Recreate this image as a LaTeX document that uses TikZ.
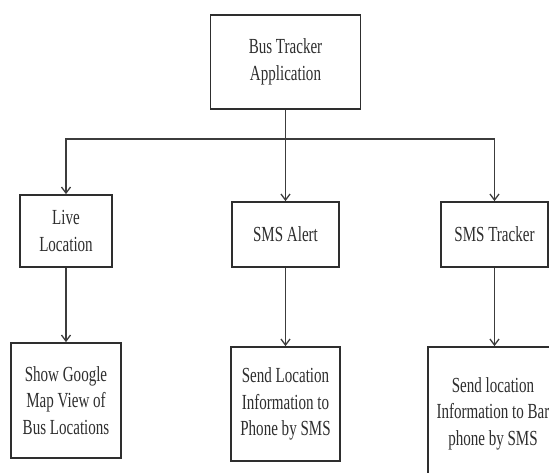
\documentclass[tikz,border=0pt]{standalone}
\usepackage{fontspec}
\setmainfont[FakeStretch=0.7]{Liberation Serif}
\usetikzlibrary{arrows.meta}
\definecolor{ink}{HTML}{2E2E2E}
\definecolor{wire}{HTML}{3C3C3C}
\tikzset{
  box/.style={draw=ink, line width=1.8pt, fill=white, rectangle, inner sep=0pt,
    align=center, text=ink, font=\fontsize{21.5}{26.5}\selectfont},
  link/.style={draw=wire, line width=1.4pt},
  arr/.style={link, -{Straight Barb[length=6pt,width=9pt,line width=1.3pt]}}
}
\begin{document}
\begin{tikzpicture}[x=1pt,y=-1pt]
  \useasboundingbox (0,0) rectangle (549,472);
  \clip (0,0) rectangle (549,472);

  % root
  \node[box, minimum width=150pt, minimum height=94pt] (root) at (285.5,62)
    {Bus Tracker\\Application};

  % features
  \node[box, minimum width=92pt, minimum height=72pt] (live) at (66,231)
    {Live\\Location};
  \node[box, minimum width=107pt, minimum height=65pt] (alert) at (285.5,234.5)
    {SMS Alert};
  \node[box, minimum width=107pt, minimum height=65pt] (tracker) at (494.5,234.5)
    {SMS Tracker};

  % details
  \node[box, minimum width=110pt, minimum height=115pt] (map) at (66,400.5)
    {Show Google\\Map View of\\Bus Locations};
  \node[box, minimum width=109pt, minimum height=114pt] (send) at (285.5,404)
    {Send Location\\Information to\\Phone by SMS};
  \node[box, minimum width=130pt, minimum height=133pt] (bar) at (493,413.5)
    {Send location\\Information to Bar\\phone by SMS};

  % branching bus
  \coordinate (bus) at (285.5,139);
  \draw[link] (root.south) -- (bus);
  \draw[arr] (bus) -| (live.north);
  \draw[arr] (bus) -- (alert.north);
  \draw[arr] (bus) -| (tracker.north);

  % feature to detail
  \draw[arr] (live.south) -- (map.north);
  \draw[arr] (alert.south) -- (send.north);
  \draw[arr] (tracker.south) -- (tracker.south |- bar.north);
\end{tikzpicture}
\end{document}
